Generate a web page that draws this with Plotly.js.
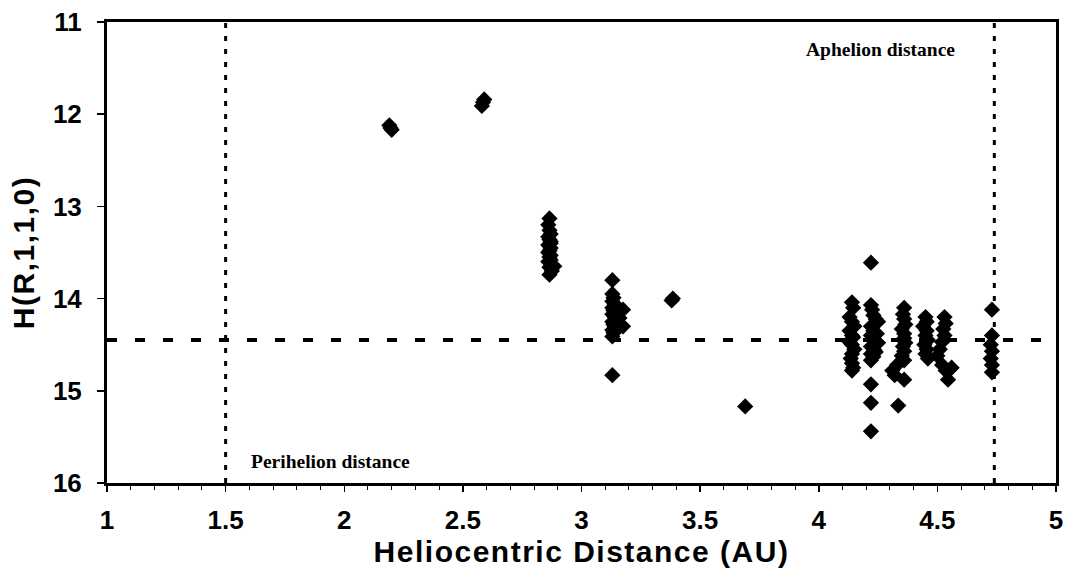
<!DOCTYPE html>
<html>
<head>
<meta charset="utf-8">
<script src="https://cdn.plot.ly/plotly-3.0.1.min.js"></script>
<style>
html,body{margin:0;padding:0;background:#fff;} #chart{width:1068px;height:577px;}
#chart .xtitle, #chart .ytitle { letter-spacing: 1.5px; }
</style>
</head>
<body>
<div id="chart"></div>
<script>
// ---- data ----
const c1x = [2.19, 2.20, 2.195];
const c1y = [12.12, 12.17, 12.15];
const c2x = [2.58, 2.59, 2.585];
const c2y = [11.91, 11.84, 11.87];
const c3x = [2.865, 2.86, 2.865, 2.87, 2.86, 2.865, 2.87, 2.86, 2.87, 2.865, 2.86, 2.87, 2.865, 2.87, 2.86, 2.875, 2.865, 2.885, 2.875, 2.865, 2.87];
const c3y = [13.13, 13.2, 13.26, 13.3, 13.33, 13.36, 13.4, 13.42, 13.45, 13.48, 13.5, 13.53, 13.55, 13.58, 13.6, 13.63, 13.66, 13.65, 13.7, 13.74, 13.38];
const c4x = [3.13, 3.13, 3.135, 3.13, 3.14, 3.13, 3.135, 3.175, 3.13, 3.14, 3.16, 3.13, 3.135, 3.14, 3.175, 3.13, 3.135, 3.13, 3.14, 3.13];
const c4y = [13.80, 13.95, 13.99, 14.03, 14.06, 14.1, 14.13, 14.12, 14.17, 14.2, 14.21, 14.25, 14.28, 14.3, 14.30, 14.34, 14.37, 14.41, 14.36, 14.83];
const c5x = [3.38, 3.385];
const c5y = [14.02, 14.0];
const c6x = [3.69];
const c6y = [15.17];
const cAx = [4.14, 4.145, 4.13, 4.14, 4.15, 4.13, 4.14, 4.145, 4.13, 4.14, 4.15, 4.14, 4.135, 4.14, 4.145, 4.14];
const cAy = [14.04, 14.1, 14.2, 14.25, 14.3, 14.35, 14.4, 14.42, 14.47, 14.5, 14.55, 14.6, 14.65, 14.7, 14.75, 14.78];
const cBx = [4.22, 4.22, 4.225, 4.23, 4.24, 4.25, 4.22, 4.23, 4.245, 4.22, 4.23, 4.25, 4.22, 4.235, 4.22, 4.23, 4.24, 4.22, 4.22, 4.22, 4.22];
const cBy = [13.61, 14.07, 14.12, 14.18, 14.22, 14.25, 14.3, 14.35, 14.38, 14.4, 14.45, 14.48, 14.52, 14.56, 14.6, 14.63, 14.58, 14.67, 14.93, 15.13, 15.44];
const cCx = [4.36, 4.355, 4.36, 4.365, 4.35, 4.36, 4.36, 4.365, 4.355, 4.36, 4.35, 4.36, 4.33, 4.31, 4.32, 4.36, 4.335];
const cCy = [14.1, 14.17, 14.22, 14.28, 14.33, 14.38, 14.43, 14.48, 14.52, 14.57, 14.62, 14.67, 14.72, 14.78, 14.83, 14.88, 15.16];
const cDx = [4.45, 4.455, 4.44, 4.455, 4.45, 4.46, 4.445, 4.455, 4.45, 4.46];
const cDy = [14.2, 14.25, 14.3, 14.35, 14.4, 14.45, 14.5, 14.55, 14.6, 14.65];
const cEx = [4.53, 4.535, 4.525, 4.53, 4.52, 4.51, 4.5, 4.52, 4.535, 4.545, 4.56];
const cEy = [14.2, 14.27, 14.33, 14.4, 14.47, 14.55, 14.62, 14.72, 14.78, 14.88, 14.75];
const cFx = [4.73, 4.73, 4.725, 4.73, 4.725, 4.73, 4.73];
const cFy = [14.12, 14.4, 14.5, 14.57, 14.65, 14.72, 14.8];

const perihelion = 1.5;
const aphelion = 4.74;
const meanH = 14.45;

const xTickVals = [1, 1.5, 2, 2.5, 3, 3.5, 4, 4.5, 5];
const xTickText = ['1', '1.5', '2', '2.5', '3', '3.5', '4', '4.5', '5'];
const yTickVals = [11, 12, 13, 14, 15, 16];
const yTickText = ['11', '12', '13', '14', '15', '16'];

// ---- build ----
const xs = [].concat(c1x, c2x, c3x, c4x, c5x, c6x, cAx, cBx, cCx, cDx, cEx, cFx);
const ys = [].concat(c1y, c2y, c3y, c4y, c5y, c6y, cAy, cBy, cCy, cDy, cEy, cFy);

const sans = 'Liberation Sans, Arial, Helvetica, sans-serif';
const serif = 'Liberation Serif, Times New Roman, serif';

const trace = {
  x: xs, y: ys, type: 'scatter', mode: 'markers',
  marker: {symbol: 'diamond', size: 12.5, color: '#000', line: {width: 0}},
  hoverinfo: 'x+y', showlegend: false
};

const layout = {
  width: 1068, height: 577,
  margin: {l: 107, r: 12, t: 22, b: 94},
  paper_bgcolor: '#fff', plot_bgcolor: '#fff',
  showlegend: false,
  xaxis: {
    range: [1, 5], tickmode: 'array', tickvals: xTickVals, ticktext: xTickText,
    ticks: 'outside', ticklen: 6, tickwidth: 1.5, tickcolor: '#000',
    minor: {dtick: 0.1, tick0: 1, ticks: 'outside', ticklen: 4, tickwidth: 1, tickcolor: '#000', showgrid: false},
    showgrid: false, zeroline: false,
    showline: true, linecolor: '#000', linewidth: 3, mirror: true,
    tickfont: {family: sans, size: 26, color: '#000', weight: 700},
    ticklabelstandoff: 6,
    title: {text: 'Heliocentric Distance (AU)', font: {family: sans, size: 30, color: '#000', weight: 700}, standoff: 4}
  },
  yaxis: {
    range: [16, 11], tickmode: 'array', tickvals: yTickVals, ticktext: yTickText,
    ticks: 'outside', ticklen: 7, tickwidth: 1.5, tickcolor: '#000',
    showgrid: false, zeroline: false,
    showline: true, linecolor: '#000', linewidth: 3, mirror: true,
    tickfont: {family: sans, size: 26, color: '#000', weight: 700},
    ticklabelstandoff: 10,
    title: {text: 'H(R,1,1,0)', font: {family: sans, size: 30, color: '#000', weight: 700}, standoff: 10}
  },
  shapes: [
    {type: 'line', xref: 'x', yref: 'paper', x0: perihelion, x1: perihelion, y0: 0, y1: 1,
     line: {color: '#000', width: 3, dash: '5px,8px'}},
    {type: 'line', xref: 'x', yref: 'paper', x0: aphelion, x1: aphelion, y0: 0, y1: 1,
     line: {color: '#000', width: 3, dash: '5px,8px'}},
    {type: 'line', xref: 'paper', yref: 'y', x0: 0, x1: 1, y0: meanH, y1: meanH,
     line: {color: '#000', width: 4, dash: '10px,18px'}}
  ],
  annotations: [
    {text: 'Aphelion distance', xref: 'x', yref: 'y', x: 4.262, y: 11.30, showarrow: false,
     font: {family: serif, size: 19.5, color: '#000', weight: 700}},
    {text: 'Perihelion distance', xref: 'x', yref: 'y', x: 1.944, y: 15.77, showarrow: false,
     font: {family: serif, size: 19.5, color: '#000', weight: 700}}
  ]
};

Plotly.newPlot('chart', [trace], layout, {displayModeBar: false, staticPlot: true});
</script>
</body>
</html>
